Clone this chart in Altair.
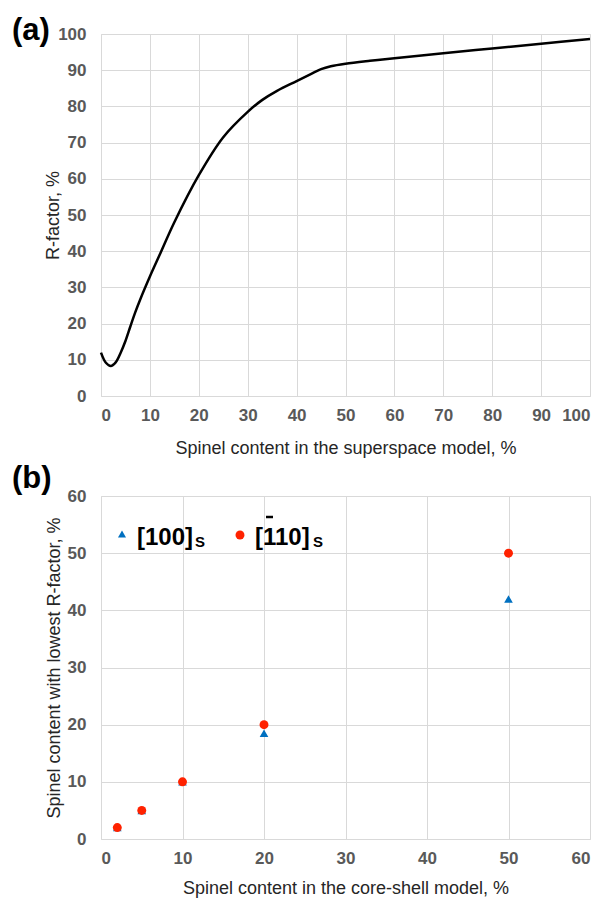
import altair as alt
import pandas as pd

# Panel (a): R-factor vs spinel content (superspace model)
a_x = [0, 1, 2, 3, 4, 5, 6, 7, 8, 10, 12, 15, 20, 25, 30, 33, 36, 40, 43, 45, 47, 50, 55, 60, 70, 80, 90, 100]
a_y = [12, 9.2, 8.3, 9.3, 11.9, 15.2, 19.2, 23.1, 26.6, 33, 39, 48, 61, 71.5, 78.5, 81.8, 84.3, 87, 89, 90.3, 91.1, 91.8, 92.6, 93.3, 94.7, 96, 97.3, 98.6]

# Panel (b): core-shell model
b_x = [2, 5, 10, 20, 50]
b_100 = [2, 5, 10, 18.5, 42]
b_110 = [2, 5, 10, 20, 50]

ticks_a = list(range(0, 101, 10))
ticks_b = list(range(0, 61, 10))

FONT = "Liberation Sans"
GRID = "#d9d9d9"
LAB = "#595959"
BLUE = "#0070C0"
RED = "#FF2200"

df_a = pd.DataFrame({"x": a_x, "y": a_y})
df_b1 = pd.DataFrame({"x": b_x, "y": b_100})
df_b2 = pd.DataFrame({"x": b_x, "y": b_110})


def axis(title, values, orient, tpad):
    common = dict(
        title=title, values=values, domain=False, ticks=False, grid=True,
        gridColor=GRID, gridWidth=1, labelFont=FONT, labelFontSize=17,
        labelFontWeight="bold", labelColor=LAB, titleFont=FONT,
        titleFontSize=18, titleFontWeight="normal", titleColor="#262626",
        titlePadding=tpad,
    )
    if orient == "x":
        common.update(labelPadding=11)
    else:
        common.update(labelPadding=15)
    return alt.Axis(**common)


line = alt.Chart(df_a).mark_line(color="black", strokeWidth=2.5, interpolate="catmull-rom").encode(
    x=alt.X("x:Q", scale=alt.Scale(domain=[0, 100], nice=False),
            axis=axis("Spinel content in the superspace model, %", ticks_a, "x", 16)),
    y=alt.Y("y:Q", scale=alt.Scale(domain=[0, 100], nice=False),
            axis=axis("R-factor, %", ticks_a, "y", -5)),
)
lab_a = alt.Chart(pd.DataFrame({"t": ["(a)"]})).mark_text(
    font=FONT, fontSize=31, fontWeight="bold", align="left", baseline="middle", color="black"
).encode(x=alt.value(-89), y=alt.value(-3.5), text="t:N")

panel_a = alt.layer(line, lab_a).properties(width=489, height=362)

xb = alt.X("x:Q", scale=alt.Scale(domain=[0, 60], nice=False),
           axis=axis("Spinel content in the core-shell model, %", ticks_b, "x", 13))
yb = alt.Y("y:Q", scale=alt.Scale(domain=[0, 60], nice=False),
           axis=axis("Spinel content with lowest R-factor, %", ticks_b, "y", 4))

tri = alt.Chart(df_b1).mark_point(shape="triangle-up", filled=True, color=BLUE, size=75, opacity=1).encode(x=xb, y=yb)
circ = alt.Chart(df_b2).mark_point(shape="circle", filled=True, color=RED, size=80, opacity=1).encode(x=xb, y=yb)

one = pd.DataFrame({"k": [1]})
leg_tri = alt.Chart(one).mark_point(shape="triangle-up", filled=True, color=BLUE, size=65, opacity=1).encode(
    x=alt.value(21), y=alt.value(38))
leg_circ = alt.Chart(one).mark_point(shape="circle", filled=True, color=RED, size=80, opacity=1).encode(
    x=alt.value(139), y=alt.value(39))


def txt(s, x, y, size):
    return alt.Chart(pd.DataFrame({"t": [s]})).mark_text(
        font=FONT, fontSize=size, fontWeight="bold", align="left", baseline="middle", color="black"
    ).encode(x=alt.value(x), y=alt.value(y), text="t:N")


leg_t1 = txt("[100]", 36, 42, 24)
leg_s1 = txt("S", 94, 46, 15)
leg_t2 = txt("[110]", 154, 42, 24)
leg_s2 = txt("S", 212, 46, 15)
overbar = alt.Chart(one).mark_rule(color="black", strokeWidth=2.5).encode(
    x=alt.value(165), x2=alt.value(172), y=alt.value(21))
lab_b = txt("(b)", -89, -17.5, 31)

panel_b = alt.layer(tri, circ, leg_tri, leg_circ, leg_t1, leg_s1, leg_t2, leg_s2, overbar, lab_b).properties(width=489, height=343)

chart = alt.vconcat(panel_a, panel_b, spacing=4).properties(
    padding={"left": 11, "top": 14, "right": 10, "bottom": 0}
).configure_view(stroke=None).configure(background="white")

chart.save("out.html", embed_options={"renderer": "svg", "actions": False})
